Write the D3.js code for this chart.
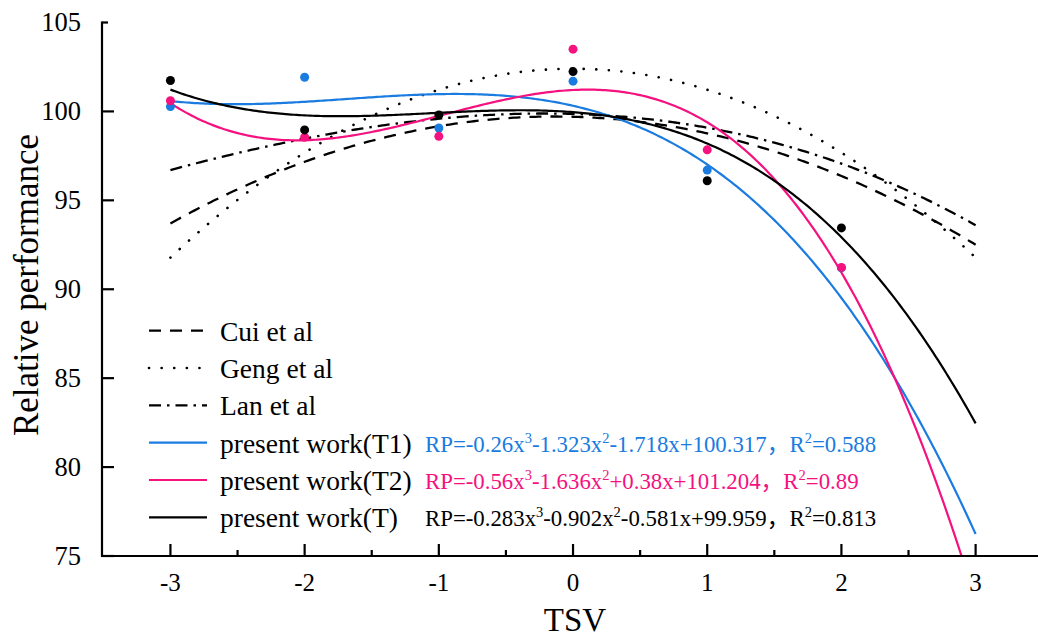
<!DOCTYPE html>
<html>
<head>
<meta charset="utf-8">
<script src="https://cdn.jsdelivr.net/npm/d3@7/dist/d3.min.js"></script>
<style>
  html, body { margin: 0; padding: 0; background: #fff; }
  svg { display: block; }
</style>
</head>
<body>
<svg id="chart" width="1038" height="637"></svg>
<script>
// Measured thermal sensation votes and relative performance
const tsv = [-3, -2, -1, 0, 1, 2];
const rpT1 = [100.27, 101.92, 99.07, 101.7, 96.7, 91.2];
const rpT2 = [100.6, 98.55, 98.6, 103.5, 97.84, 91.23];
const rpT  = [101.74, 98.96, 99.8, 102.24, 96.1, 93.45];

// Polynomial models, coefficients [c0, c1, c2, c3] for c0 + c1*x + c2*x^2 + c3*x^3
const coefCui  = [99.7, -0.2, -0.733, 0];
const coefGeng = [102.4, 0, -1.18, 0];
const coefLan  = [99.86, -0.219, -0.523, -0.0331];
const coefT1   = [100.317, -1.718, -1.323, -0.26];
const coefT2   = [101.204, 0.38, -1.636, -0.56];
const coefT    = [99.959, -0.581, -0.902, -0.283];

const xTicks = [-3, -2, -1, 0, 1, 2, 3];
const xMinorTicks = [-2.5, -1.5, -0.5, 0.5, 1.5, 2.5];
const yTicks = [75, 80, 85, 90, 95, 100, 105];

const legendLabels = ["Cui et al", "Geng et al", "Lan et al",
  "present work(T1)", "present work(T2)", "present work(T)"];
const equations = [
  { rp: ["-0.26x", "3", "-1.323x", "2", "-1.718x+100.317"], r2: "=0.588" },
  { rp: ["-0.56x", "3", "-1.636x", "2", "+0.38x+101.204"], r2: "=0.89" },
  { rp: ["-0.283x", "3", "-0.902x", "2", "-0.581x+99.959"], r2: "=0.813" }
];

const BLUE = "#1a7be0";
const PINK = "#f5117f";
const BLACK = "#000000";
const SERIF = "'Liberation Serif', 'Times New Roman', Times, serif";

const svg = d3.select("#chart").attr("font-family", SERIF);
const x = d3.scaleLinear().domain([-3.51, 3.45]).range([102, 1036]);
const y = d3.scaleLinear().domain([75, 105]).range([556, 22.5]);

svg.append("rect").attr("width", 1038).attr("height", 637).attr("fill", "#fff");

svg.append("defs").append("clipPath").attr("id", "plotClip")
  .append("rect").attr("x", 102).attr("y", 22).attr("width", 934).attr("height", 534);

const poly = c => v => c[0] + c[1] * v + c[2] * v * v + c[3] * v * v * v;
const samples = d3.range(-3, 3.0001, 0.02);
const line = d3.line().x(d => x(d[0])).y(d => y(d[1]));
const curveData = c => samples.map(v => [v, poly(c)(v)]);

const plot = svg.append("g").attr("clip-path", "url(#plotClip)");

const models = [
  { c: coefCui,  color: BLACK, w: 2.3, dash: "12,9", cap: "butt" },
  { c: coefGeng, color: BLACK, w: 2.6, dash: "0.1,12.5", cap: "round" },
  { c: coefLan,  color: BLACK, w: 2.3, dash: "12,6,2.5,6", cap: "butt" },
  { c: coefT1,   color: BLUE,  w: 2.2, dash: null, cap: "butt" },
  { c: coefT2,   color: PINK,  w: 2.2, dash: null, cap: "butt" },
  { c: coefT,    color: BLACK, w: 2.2, dash: null, cap: "butt" }
];

models.forEach(m => {
  plot.append("path")
    .attr("d", line(curveData(m.c)))
    .attr("fill", "none")
    .attr("stroke", m.color)
    .attr("stroke-width", m.w)
    .attr("stroke-linecap", m.cap)
    .attr("stroke-dasharray", m.dash);
});

// Measured points
[[rpT1, BLUE], [rpT2, PINK], [rpT, BLACK]].forEach(([vals, color]) => {
  plot.selectAll(null).data(vals.map((v, i) => [tsv[i], v])).enter()
    .append("circle")
    .attr("cx", d => x(d[0]))
    .attr("cy", d => y(d[1]))
    .attr("r", 4.5)
    .attr("fill", color);
});

// Axes
const axes = svg.append("g").attr("stroke", "#000").attr("stroke-width", 2.2).attr("fill", "none");
axes.append("line").attr("x1", 101).attr("x2", 1038).attr("y1", y(75)).attr("y2", y(75));
axes.append("line").attr("x1", 102).attr("x2", 102).attr("y1", 21.5).attr("y2", y(75) + 1);

xTicks.forEach(t => {
  axes.append("line").attr("x1", x(t)).attr("x2", x(t)).attr("y1", y(75)).attr("y2", y(75) - 12);
});
xMinorTicks.forEach(t => {
  axes.append("line").attr("x1", x(t)).attr("x2", x(t)).attr("y1", y(75)).attr("y2", y(75) - 6);
});
yTicks.forEach(t => {
  const len = t === 105 ? 6 : 12;
  axes.append("line").attr("x1", 102).attr("x2", 102 + len).attr("y1", y(t)).attr("y2", y(t));
});

svg.selectAll(".xl").data(xTicks).enter().append("text")
  .attr("x", d => x(d)).attr("y", 591)
  .attr("text-anchor", "middle").attr("font-size", 25)
  .text(d => d);

svg.selectAll(".yl").data(yTicks).enter().append("text")
  .attr("x", 81).attr("y", d => y(d) + 8.5)
  .attr("text-anchor", "end").attr("font-size", 26.5)
  .text(d => d);

svg.append("text").attr("x", 575).attr("y", 631)
  .attr("text-anchor", "middle").attr("font-size", 33).text("TSV");

svg.append("text")
  .attr("transform", "translate(38,285) rotate(-90)")
  .attr("text-anchor", "middle").attr("font-size", 35)
  .text("Relative performance");

// Legend
const legend = svg.append("g");
const rowY = [330.7, 368, 405.3, 442.6, 480, 517.3];
models.forEach((m, i) => {
  legend.append("line")
    .attr("x1", 149).attr("x2", 207)
    .attr("y1", rowY[i]).attr("y2", rowY[i])
    .attr("stroke", m.color).attr("stroke-width", m.w)
    .attr("stroke-linecap", m.cap)
    .attr("stroke-dasharray", m.dash);
  legend.append("text")
    .attr("x", 220).attr("y", rowY[i] + 10)
    .attr("font-size", 27.5)
    .text(legendLabels[i]);
});

const eqColors = [BLUE, PINK, BLACK];
equations.forEach((eq, i) => {
  const t = legend.append("text")
    .attr("x", 425).attr("y", rowY[i + 3] + 9)
    .attr("font-size", 22.8)
    .attr("fill", eqColors[i]);
  t.append("tspan").text("RP=" + eq.rp[0]);
  t.append("tspan").attr("font-size", 14.5).attr("dy", -9).text(eq.rp[1]);
  t.append("tspan").attr("dy", 9).text(eq.rp[2]);
  t.append("tspan").attr("font-size", 14.5).attr("dy", -9).text(eq.rp[3]);
  t.append("tspan").attr("dy", 9).text(eq.rp[4]);
  t.append("tspan").attr("font-family", "'Noto Sans CJK SC', sans-serif").text("，");
  t.append("tspan").text("R");
  t.append("tspan").attr("font-size", 14.5).attr("dy", -9).text("2");
  t.append("tspan").attr("dy", 9).text(eq.r2);
});
</script>
</body>
</html>
